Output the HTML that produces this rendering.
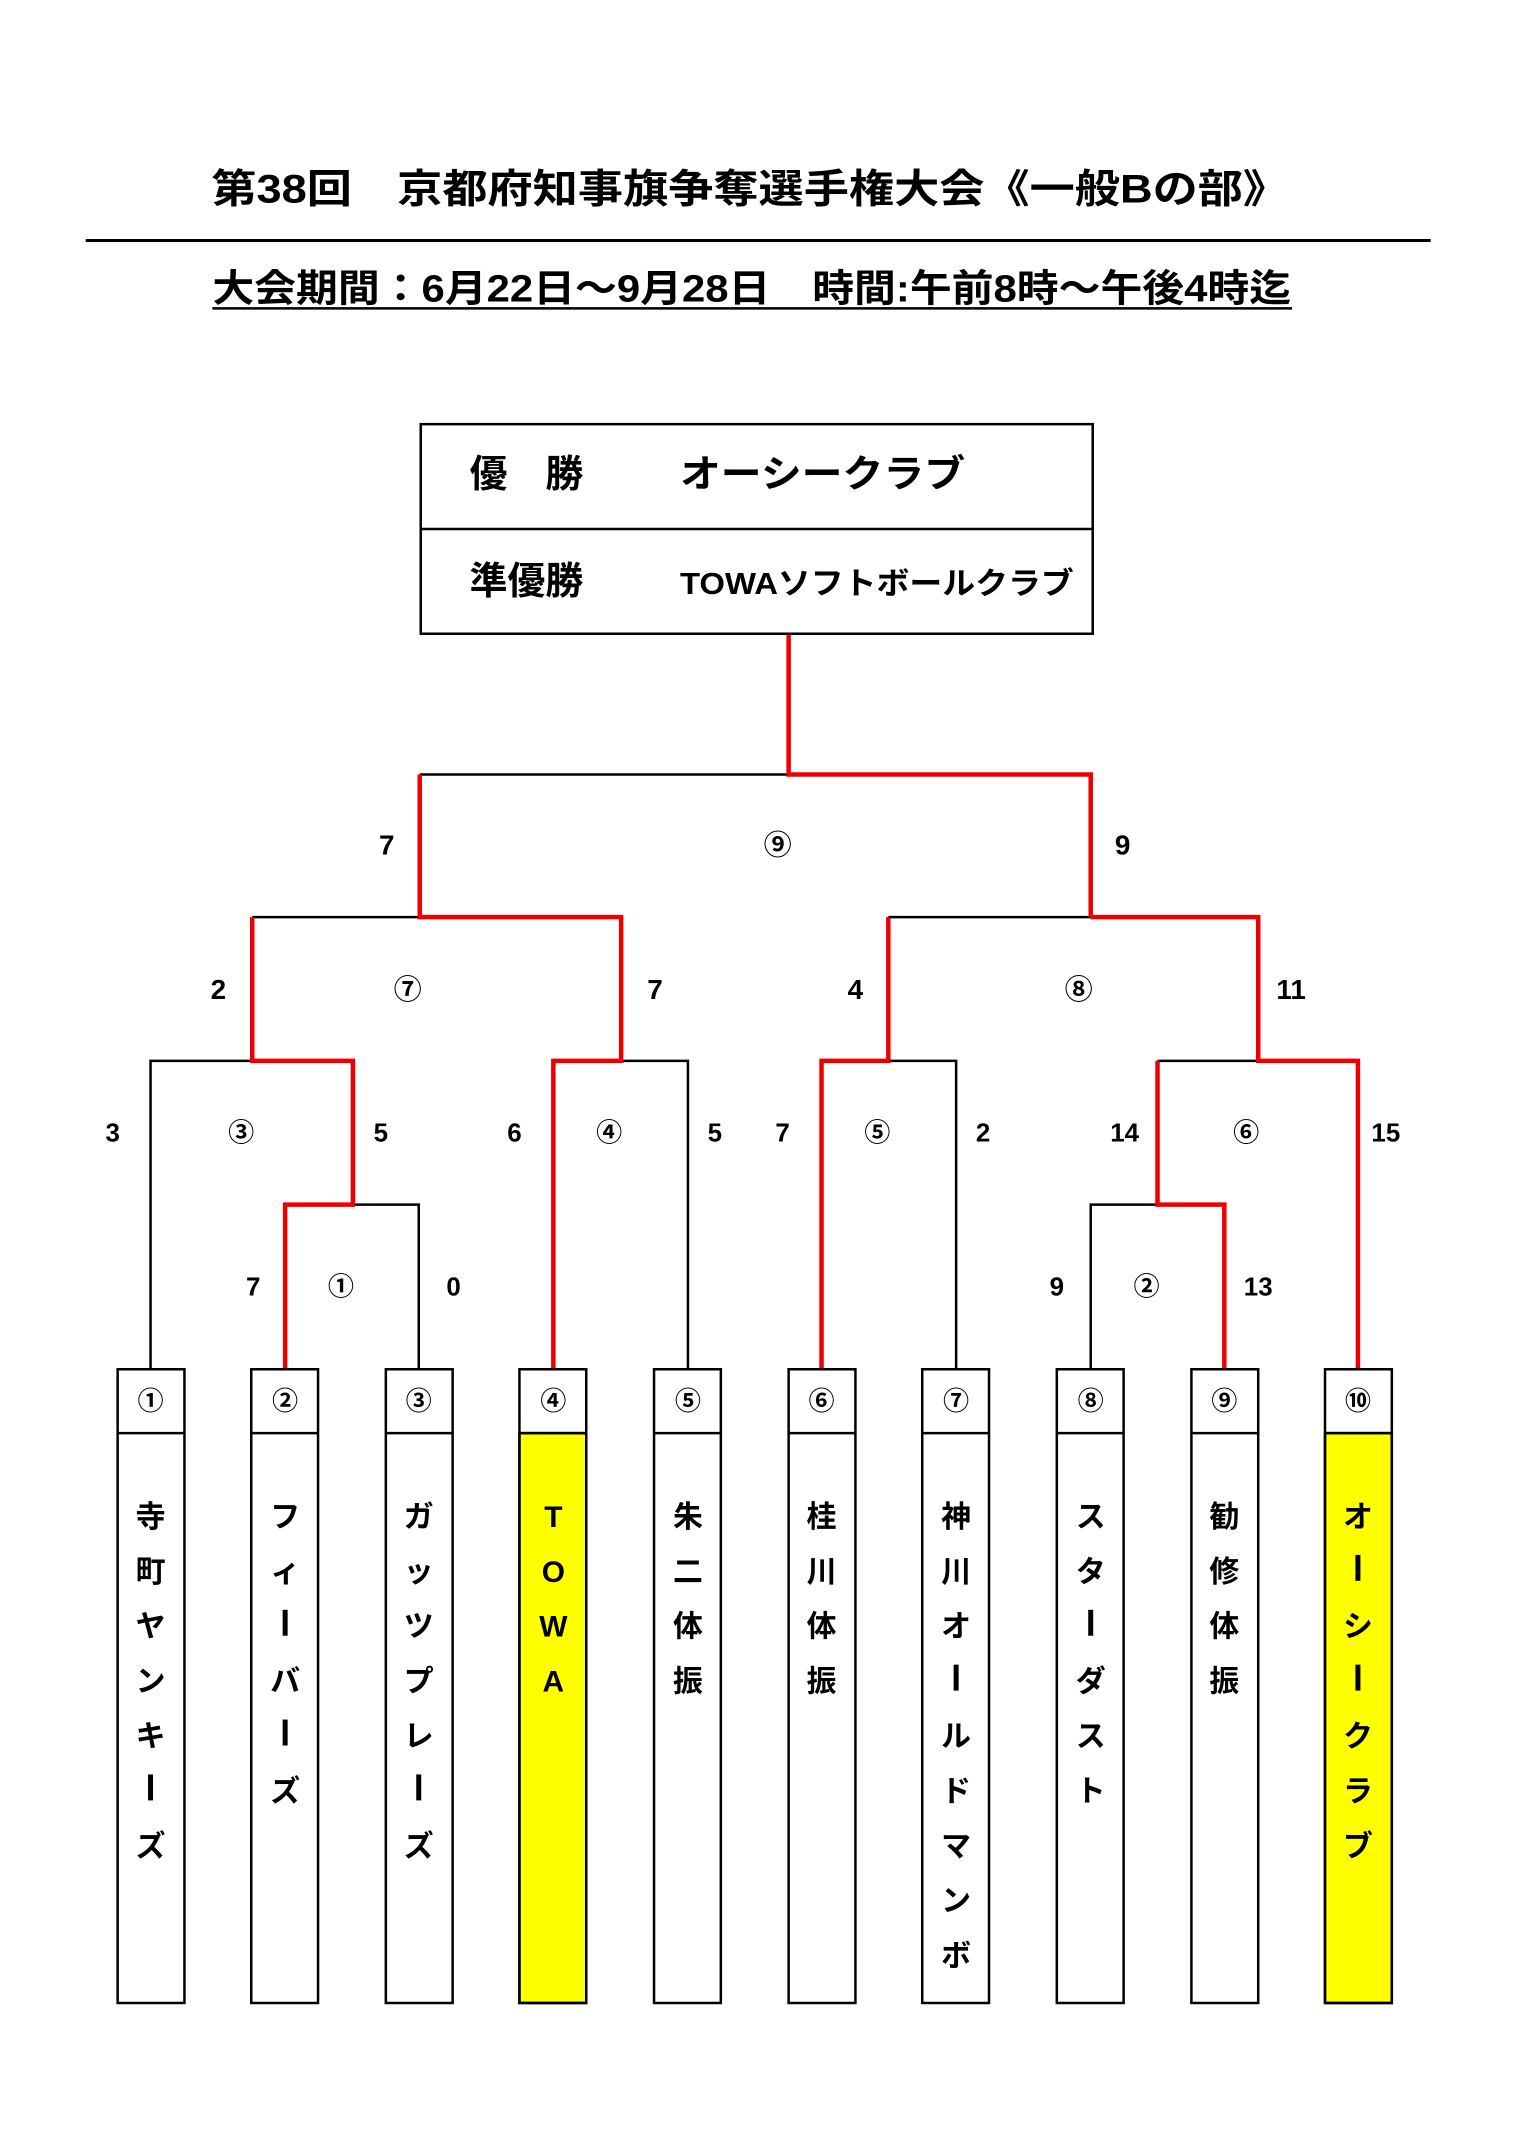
<!DOCTYPE html>
<html><head><meta charset="utf-8"><style>
html,body{margin:0;padding:0;background:#fff;}
svg{display:block;}
text{font-family:"Liberation Sans","Noto Sans CJK JP",sans-serif;font-weight:bold;fill:#000;}
</style></head><body>
<svg width="1518" height="2150" viewBox="0 0 1518 2150" xmlns="http://www.w3.org/2000/svg">
<defs><rect id="bar" x="-2.5" y="-27" width="5" height="26" fill="#000"/></defs>
<g transform="scale(0.997,0.998)">
<text x="752" y="203" font-size="40" text-anchor="middle" textLength="1080" lengthAdjust="spacingAndGlyphs">第38回　京都府知事旗争奪選手権大会《一般Bの部》</text>
<line x1="86" y1="241" x2="1435" y2="241" stroke="#000" stroke-width="3"/>
<text x="754" y="302" font-size="38" text-anchor="middle" textLength="1082" lengthAdjust="spacingAndGlyphs">大会期間：6月22日～9月28日　時間:午前8時～午後4時迄</text>
<line x1="213" y1="309" x2="1296" y2="309" stroke="#000" stroke-width="2.5"/>

<rect x="422" y="425" width="674" height="210" fill="none" stroke="#000" stroke-width="2.5"/>
<line x1="422" y1="530" x2="1096" y2="530" stroke="#000" stroke-width="2.5"/>
<text x="471" y="488" font-size="38">優　勝</text>
<text x="682" y="488" font-size="38" textLength="286" lengthAdjust="spacingAndGlyphs">オーシークラブ</text>
<text x="471" y="595" font-size="38">準優勝</text>
<text x="682" y="595" font-size="31" textLength="395" lengthAdjust="spacingAndGlyphs">TOWAソフトボールクラブ</text>

<g stroke="#000" stroke-width="2.5" fill="none">
<path d="M421 776H791"/>
<path d="M253 919H421"/><path d="M891 919H1094"/>
<path d="M151 1372V1063H253"/><path d="M623 1063H690V1372"/>
<path d="M891 1063H959V1372"/><path d="M1161 1063H1262"/>
<path d="M354 1207H420V1372"/><path d="M1161 1207H1094V1372"/>
</g>
<g stroke="#ee0000" stroke-width="4.5" fill="none" stroke-linejoin="miter">
<path d="M791 636V776H1094V919"/>
<path d="M421 776V919H623V1063H555V1372"/>
<path d="M253 919V1063H354V1207H286V1372"/>
<path d="M1094 919H1262V1063H1362V1372"/>
<path d="M891 919V1063H824V1372"/>
<path d="M1161 1063V1207H1228V1372"/>
</g>

<g font-size="28" text-anchor="middle">
<text x="388" y="856">7</text><text x="780" y="856">⑨</text><text x="1126" y="856">9</text>
<text x="219" y="1001">2</text><text x="409" y="1001">⑦</text><text x="657" y="1001">7</text>
<text x="858" y="1001">4</text><text x="1082" y="1001">⑧</text><text x="1295" y="1001">11</text>
<g font-size="26">
<text x="113" y="1144">3</text><text x="242" y="1144">③</text><text x="382" y="1144">5</text>
<text x="516" y="1144">6</text><text x="611" y="1144">④</text><text x="717" y="1144">5</text>
<text x="785" y="1144">7</text><text x="880" y="1144">⑤</text><text x="986" y="1144">2</text>
<text x="1128" y="1144">14</text><text x="1250" y="1144">⑥</text><text x="1390" y="1144">15</text>
<text x="254" y="1298">7</text><text x="342" y="1298">①</text><text x="455" y="1298">0</text>
<text x="1060" y="1298">9</text><text x="1150" y="1298">②</text><text x="1262" y="1298">13</text>
</g>
</g>

<g stroke="#000" stroke-width="2.5">
<rect x="118" y="1372" width="67" height="635" fill="#fff"/>
<rect x="252" y="1372" width="67" height="635" fill="#fff"/>
<rect x="387" y="1372" width="67" height="635" fill="#fff"/>
<rect x="521" y="1436" width="67" height="571" fill="#ffff00"/>
<rect x="521" y="1372" width="67" height="635" fill="none"/>
<rect x="656" y="1372" width="67" height="635" fill="#fff"/>
<rect x="791" y="1372" width="67" height="635" fill="#fff"/>
<rect x="925" y="1372" width="67" height="635" fill="#fff"/>
<rect x="1060" y="1372" width="67" height="635" fill="#fff"/>
<rect x="1195" y="1372" width="67" height="635" fill="#fff"/>
<rect x="1329" y="1436" width="67" height="571" fill="#ffff00"/>
<rect x="1329" y="1372" width="67" height="635" fill="none"/>
<path d="M118 1436h67M252 1436h67M387 1436h67M521 1436h67M656 1436h67M791 1436h67M925 1436h67M1060 1436h67M1195 1436h67M1329 1436h67"/>
</g>
<g font-size="26" text-anchor="middle" font-weight="normal">
<text x="151" y="1413">①</text><text x="286" y="1413">②</text><text x="420" y="1413">③</text>
<text x="555" y="1413">④</text><text x="690" y="1413">⑤</text><text x="824" y="1413">⑥</text>
<text x="959" y="1413">⑦</text><text x="1094" y="1413">⑧</text><text x="1228" y="1413">⑨</text>
<text x="1362" y="1413">⑩</text>
</g>
<g font-size="30" text-anchor="middle">
<g transform="translate(151,0)"><text y="1530">寺</text><text y="1585">町</text><text y="1640">ヤ</text><text y="1695">ン</text><text y="1750">キ</text><use href="#bar" y="1805"/><text y="1860">ズ</text></g>
<g transform="translate(286,0)"><text y="1530">フ</text><text y="1585">ィ</text><use href="#bar" y="1640"/><text y="1695">バ</text><use href="#bar" y="1750"/><text y="1805">ズ</text></g>
<g transform="translate(420,0)"><text y="1530">ガ</text><text y="1585">ッ</text><text y="1640">ツ</text><text y="1695">プ</text><text y="1750">レ</text><use href="#bar" y="1805"/><text y="1860">ズ</text></g>
<g transform="translate(555,0)"><text y="1530">T</text><text y="1585">O</text><text y="1640">W</text><text y="1695">A</text></g>
<g transform="translate(690,0)"><text y="1530">朱</text><text y="1585">二</text><text y="1640">体</text><text y="1695">振</text></g>
<g transform="translate(824,0)"><text y="1530">桂</text><text y="1585">川</text><text y="1640">体</text><text y="1695">振</text></g>
<g transform="translate(959,0)"><text y="1530">神</text><text y="1585">川</text><text y="1640">オ</text><use href="#bar" y="1695"/><text y="1750">ル</text><text y="1805">ド</text><text y="1860">マ</text><text y="1915">ン</text><text y="1970">ボ</text></g>
<g transform="translate(1094,0)"><text y="1530">ス</text><text y="1585">タ</text><use href="#bar" y="1640"/><text y="1695">ダ</text><text y="1750">ス</text><text y="1805">ト</text></g>
<g transform="translate(1228,0)"><text y="1530">勧</text><text y="1585">修</text><text y="1640">体</text><text y="1695">振</text></g>
<g transform="translate(1362,0)"><text y="1530">オ</text><use href="#bar" y="1585"/><text y="1640">シ</text><use href="#bar" y="1695"/><text y="1750">ク</text><text y="1805">ラ</text><text y="1860">ブ</text></g>
</g>
</g>
</svg>
</body></html>
